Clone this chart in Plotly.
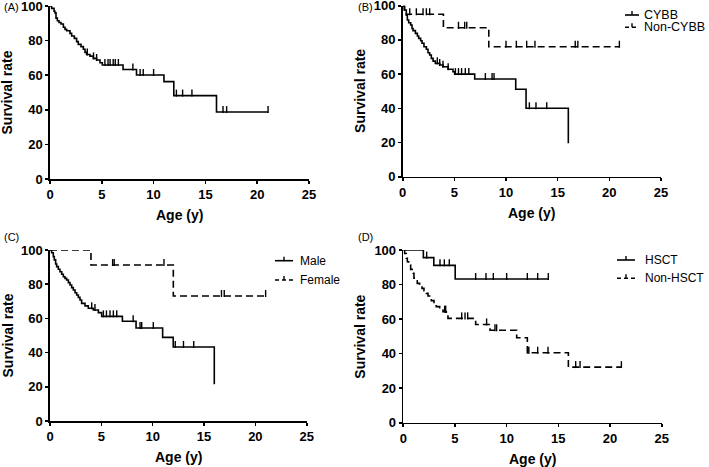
import plotly.graph_objects as go

W, H = 709, 467

# ---------------- data ----------------
# Panel A: overall
A_times = [0.16, 0.39, 0.48, 0.58, 0.71, 0.87, 1.06, 1.29, 1.45, 1.61, 1.93, 2.09, 2.35, 2.57, 2.73,
           2.99, 3.22, 3.38, 3.54, 3.86, 4.18, 4.5, 4.83, 5.05, 7.05, 8.35, 11.0, 11.95, 16.07]
A_surv = [98.6, 97, 96, 93, 91.5, 90.5, 89.6, 87.7, 86.5, 85.7, 84.2, 82.7, 81.3, 79.4, 77.8,
          76.5, 75, 73.2, 72, 71, 69.7, 68.8, 67.2, 65.9, 63.3, 60.1, 56.3, 48.2, 38.7]
A_end = 21.05
A_cens = [3.6, 4.2, 4.5, 5.3, 5.6, 5.8, 6.1, 6.3, 6.6, 8.0, 8.7, 9.0, 10.0, 12.2, 12.8, 13.7,
          16.7, 17.05, 21.05]

# Panel B: CYBB vs Non-CYBB
CYBB_times = [0.19, 0.35, 0.45, 0.58, 0.77, 0.9, 1.0, 1.23, 1.42, 1.55, 1.74, 1.87, 2.06, 2.29, 2.45,
              2.61, 2.77, 2.94, 3.16, 3.58, 3.9, 4.39, 4.87, 5.03, 6.97, 10.94, 11.94, 16.03]
CYBB_surv = [97.5, 94.5, 91.6, 90, 88.7, 86.7, 85.4, 83.8, 82.3, 80.9, 79.5, 78, 76, 74.5, 72.5,
             71.2, 69.2, 67.6, 66.3, 65.3, 64.3, 62.8, 61.4, 60, 57.1, 51.1, 40, 19.5]
CYBB_end = 16.03
CYBB_cens = [3.35, 3.58, 3.9, 4.4, 5.1, 5.4, 5.7, 6.06, 6.4, 8.0, 8.65, 8.84, 12.26, 12.9, 13.94]

NCYBB_times = [0.15, 0.35, 3.94, 8.33]
NCYBB_surv = [97.5, 95, 87.1, 76]
NCYBB_end = 20.97
NCYBB_cens = [0.68, 1.32, 1.97, 2.29, 2.61, 5.4, 6.0, 6.2, 10.0, 11.0, 12.0, 12.8, 16.7, 16.95, 20.97]

# Panel C: Male vs Female
MALE_times = [0.16, 0.32, 0.42, 0.55, 0.65, 0.81, 0.97, 1.14, 1.3, 1.46, 1.62, 1.79, 1.95, 2.11, 2.27,
              2.44, 2.6, 2.76, 2.92, 3.08, 3.41, 3.73, 4.22, 4.71, 5.03, 7.05, 8.38, 10.97, 12.0, 16.0]
MALE_surv = [98.4, 96.1, 94.2, 91.8, 90.3, 88.7, 87.3, 85.8, 84.4, 83.4, 82.5, 80.9, 79.5, 78, 76.6,
             75, 73.7, 72.3, 70.8, 68.8, 67.3, 65.9, 64.9, 63.4, 61.2, 58.3, 54.4, 48.9, 43.3, 21.5]
MALE_end = 16.0
MALE_cens = [4.06, 4.38, 5.2, 5.5, 5.84, 6.17, 6.5, 8.1, 8.77, 8.93, 10.06, 12.2, 13.0, 14.0]

FEMALE_times = [3.99, 12.01]
FEMALE_surv = [91.2, 73.1]
FEMALE_end = 21.0
FEMALE_cens = [0.6, 1.0, 1.3, 1.6, 2.1, 2.9, 6.1, 6.25, 11.1, 16.7, 16.97, 21.0]

# Panel D: HSCT vs Non-HSCT
HSCT_times = [1.94, 2.95, 5.02]
HSCT_surv = [95.6, 91.1, 83.2]
HSCT_end = 14.03
HSCT_cens = [0.32, 1.13, 2.26, 3.55, 3.97, 4.45, 7.0, 8.0, 8.71, 10.0, 12.0, 13.0, 14.03]

NHSCT_times = [0.13, 0.29, 0.39, 0.52, 0.71, 0.94, 1.03, 1.16, 1.35, 1.58, 1.81, 2.0, 2.23, 2.39,
               2.55, 2.71, 2.97, 3.19, 3.52, 3.84, 4.16, 4.32, 7.0, 8.39, 10.97, 12.0, 15.97]
NHSCT_surv = [98, 95.2, 93.2, 91.3, 88.8, 86.5, 83.6, 82.2, 80.7, 79.3, 77.8, 76.4, 74.9, 73.4,
              72, 70.7, 69.1, 67.2, 65.3, 64.3, 62.4, 60.4, 56.9, 53.5, 49.2, 40.5, 32.2]
NHSCT_end = 21.1
NHSCT_cens = [4.0, 4.1, 5.65, 5.97, 6.23, 8.06, 8.87, 9.03, 12.05, 12.15, 13.0, 14.0, 16.68, 17.1, 21.1]

x_ticks = [0, 5, 10, 15, 20, 25]
y_ticks = [0, 20, 40, 60, 80, 100]
x_title = "Age (y)"
y_title = "Survival rate"
panel_labels = ["(A)", "(B)", "(C)", "(D)"]
legend_B = ["CYBB", "Non-CYBB"]
legend_C = ["Male", "Female"]
legend_D = ["HSCT", "Non-HSCT"]

# ---------------- layout geometry (pixels) ----------------
panels = {
    1: dict(x0=50.0, x1=309.0, y0=6.0, y1=179.0),
    2: dict(x0=402.7, x1=661.0, y0=5.7, y1=176.7),
    3: dict(x0=50.0, x1=306.7, y0=250.0, y1=421.0),
    4: dict(x0=403.3, x1=661.7, y0=250.0, y1=422.7),
}

FONT = "Liberation Sans, Arial, sans-serif"
LW = 1.6


def px(x):
    return x / W


def py(y):
    return 1 - y / H


def level_at(t, times, surv):
    v = 100.0
    for tt, s in zip(times, surv):
        if tt <= t + 1e-9:
            v = s
    return v


fig = go.Figure()


def add_curve(n, times, surv, end, cens, dash):
    xs = [0] + list(times)
    ys = [100] + list(surv)
    if end > xs[-1]:
        xs.append(end)
        ys.append(ys[-1])
    ax = "" if n == 1 else str(n)
    fig.add_trace(go.Scatter(
        x=xs, y=ys, mode="lines", line=dict(color="black", width=LW, dash=dash, shape="hv"),
        xaxis="x" + ax, yaxis="y" + ax, showlegend=False, cliponaxis=False, hoverinfo="skip"))
    ph = panels[n]["y1"] - panels[n]["y0"]
    off = 2.5 / ph * 100  # tick rises above the curve
    cy = [level_at(c, times, surv) + off for c in cens]
    fig.add_trace(go.Scatter(
        x=cens, y=cy, mode="markers",
        marker=dict(symbol="line-ns-open", size=5, color="black",
                    line=dict(color="black", width=1.4)),
        xaxis="x" + ax, yaxis="y" + ax, showlegend=False, cliponaxis=False, hoverinfo="skip"))


add_curve(1, A_times, A_surv, A_end, A_cens, "solid")
add_curve(2, CYBB_times, CYBB_surv, CYBB_end, CYBB_cens, "solid")
add_curve(2, NCYBB_times, NCYBB_surv, NCYBB_end, NCYBB_cens, "7px,4px")
add_curve(3, MALE_times, MALE_surv, MALE_end, MALE_cens, "solid")
add_curve(3, FEMALE_times, FEMALE_surv, FEMALE_end, FEMALE_cens, "7px,4px")
add_curve(4, HSCT_times, HSCT_surv, HSCT_end, HSCT_cens, "solid")
add_curve(4, NHSCT_times, NHSCT_surv, NHSCT_end, NHSCT_cens, "7px,4px")

layout = dict(
    width=W, height=H, margin=dict(l=0, r=0, t=0, b=0),
    paper_bgcolor="white", plot_bgcolor="white", showlegend=False,
    font=dict(family=FONT, color="black"),
)

axis_common = dict(showline=True, linecolor="black", linewidth=LW, ticks="outside", ticklen=3,
                   tickwidth=LW, tickcolor="black", showgrid=False, zeroline=False,
                   automargin=False, fixedrange=True, ticklabeloverflow="allow",
                   tickfont=dict(family=FONT, size=13, color="black", weight="bold"))

annotations = []
shapes = []
for n, p in panels.items():
    ax = "" if n == 1 else str(n)
    layout["xaxis" + ax] = dict(axis_common, domain=[px(p["x0"]), px(p["x1"])], range=[0, 25],
                                tickvals=x_ticks, anchor="y" + ax)
    layout["yaxis" + ax] = dict(axis_common, domain=[py(p["y1"]), py(p["y0"])], range=[0, 100],
                                tickvals=y_ticks, anchor="x" + ax)
    # axis titles
    annotations.append(dict(text=x_title, xref="paper", yref="paper",
                            x=px((p["x0"] + p["x1"]) / 2), y=py(p["y1"] + 36),
                            xanchor="center", yanchor="middle", showarrow=False,
                            font=dict(family=FONT, size=14, weight="bold")))
    annotations.append(dict(text=y_title, xref="paper", yref="paper",
                            x=px(p["x0"] - 43), y=py((p["y0"] + p["y1"]) / 2),
                            xanchor="center", yanchor="middle", showarrow=False, textangle=-90,
                            font=dict(family=FONT, size=14, weight="bold")))
    # panel label
    lx = 2 if n in (1, 3) else 356
    ly = 7 if n in (1, 2) else 237
    annotations.append(dict(text=panel_labels[n - 1], xref="paper", yref="paper",
                            x=px(lx), y=py(ly), xanchor="left", yanchor="middle",
                            showarrow=False, font=dict(family=FONT, size=11)))


def add_legend(labels, x0, x1, ys, tx, size):
    for lab, yy, dash in zip(labels, ys, ["solid", "4px,3px"]):
        shapes.append(dict(type="line", xref="paper", yref="paper", x0=px(x0), x1=px(x1),
                           y0=py(yy), y1=py(yy), line=dict(color="black", width=LW, dash=dash)))
        xm = (x0 + x1) / 2
        shapes.append(dict(type="line", xref="paper", yref="paper", x0=px(xm), x1=px(xm),
                           y0=py(yy), y1=py(yy - 4), line=dict(color="black", width=1.4)))
        annotations.append(dict(text=lab, xref="paper", yref="paper", x=px(tx), y=py(yy),
                                xanchor="left", yanchor="middle", showarrow=False,
                                font=dict(family=FONT, size=size)))


add_legend(legend_B, 625, 639, [15, 27.3], 642, 12.5)
add_legend(legend_C, 275, 293, [260.7, 280], 298, 12)
add_legend(legend_D, 617, 635, [260, 278.3], 643, 12)

layout["annotations"] = annotations
layout["shapes"] = shapes
fig.update_layout(**layout)
fig.write_html("out.html", config={"displayModeBar": False, "staticPlot": True},
               post_script="document.body.style.margin='0';")
